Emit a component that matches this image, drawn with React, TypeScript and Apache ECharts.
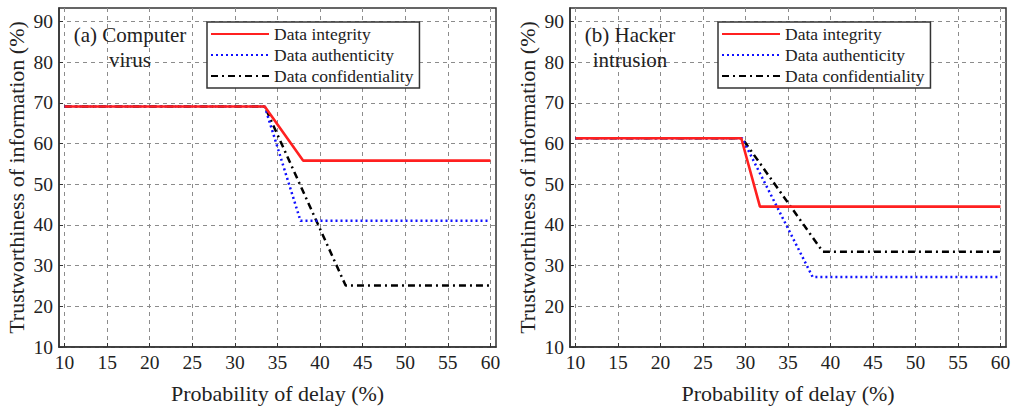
import React, { useEffect, useRef } from "react";
import * as echarts from "echarts";

const xTicks = [10, 15, 20, 25, 30, 35, 40, 45, 50, 55, 60];
const yTicks = [10, 20, 30, 40, 50, 60, 70, 80, 90];
const seriesNames = ["Data integrity", "Data authenticity", "Data confidentiality"];

// Panel (a) Computer virus
const aIntegrityX = [10, 33.5, 38.0, 60];
const aIntegrityY = [69.1, 69.1, 55.8, 55.8];
const aAuthenticityX = [10, 33.5, 37.7, 60];
const aAuthenticityY = [69.1, 69.1, 41.0, 41.0];
const aConfidentialityX = [10, 33.5, 43.0, 60];
const aConfidentialityY = [69.1, 69.1, 25.1, 25.1];

// Panel (b) Hacker intrusion
const bIntegrityX = [10, 29.5, 31.7, 60];
const bIntegrityY = [61.3, 61.3, 44.5, 44.5];
const bAuthenticityX = [10, 29.6, 37.9, 60];
const bAuthenticityY = [61.3, 61.3, 27.2, 27.2];
const bConfidentialityX = [10, 29.6, 39.1, 60];
const bConfidentialityY = [61.3, 61.3, 33.4, 33.4];

const panelTitles = ["(a) Computer\nvirus", "(b) Hacker\nintrusion"];

const FONT = "Liberation Serif, serif";

const zip = (xs: number[], ys: number[]) => xs.map((x, i) => [x, ys[i]]);

const styles = [
  { color: "#ff2020", type: "solid" as any, width: 2.6 },
  { color: "#1010ff", type: [2, 3] as any, width: 2.5 },
  { color: "#000000", type: [7, 4, 2, 4] as any, width: 2.5 },
];

export default function App() {
  const ref = useRef<HTMLDivElement>(null);
  useEffect(() => {
    if (!ref.current) return;
    const chart = echarts.init(ref.current, undefined, { renderer: "svg" });
    const grids = [
      { left: 59, top: 8, width: 437, height: 352 },
      { left: 570, top: 8, width: 436, height: 352 },
    ];
    const mkX = (gi: number) => ({
      type: "value",
      gridIndex: gi,
      min: 9.35,
      max: 60.65,
      axisLine: { show: true, lineStyle: { color: "#333", width: 1.5 } },
      axisTick: { show: true, inside: true, length: 4, customValues: xTicks, lineStyle: { color: "#333" } },
      axisLabel: { customValues: xTicks, fontSize: 19.5, fontFamily: FONT, color: "#222", margin: 5 },
      splitLine: { show: true, lineStyle: { type: [4, 4], color: "#8c8c8c", width: 1 } },
      name: "Probability of delay (%)",
      nameLocation: "middle",
      nameGap: 35,
      nameTextStyle: { fontSize: 22, fontFamily: FONT, color: "#222" },
    });
    const mkY = (gi: number) => ({
      type: "value",
      gridIndex: gi,
      min: 10,
      max: 93.3,
      axisLine: { show: true, lineStyle: { color: "#333", width: 1.5 } },
      axisTick: { show: true, inside: true, length: 4, customValues: yTicks, lineStyle: { color: "#333" } },
      axisLabel: { customValues: yTicks, fontSize: 19.5, fontFamily: FONT, color: "#222", margin: 6 },
      splitLine: { show: true, lineStyle: { type: [4, 4], color: "#8c8c8c", width: 1 } },
      name: "Trustworthiness of information (%)",
      nameLocation: "middle",
      nameGap: 32,
      nameTextStyle: { fontSize: 22, fontFamily: FONT, color: "#222" },
    });
    const data = [
      [zip(aIntegrityX, aIntegrityY), zip(aAuthenticityX, aAuthenticityY), zip(aConfidentialityX, aConfidentialityY)],
      [zip(bIntegrityX, bIntegrityY), zip(bAuthenticityX, bAuthenticityY), zip(bConfidentialityX, bConfidentialityY)],
    ];
    const series: any[] = [];
    data.forEach((panel, gi) => {
      panel.forEach((d, si) => {
        series.push({
          type: "line",
          name: seriesNames[si],
          xAxisIndex: gi,
          yAxisIndex: gi,
          data: d,
          symbol: "none",
          lineStyle: styles[si],
          itemStyle: { color: styles[si].color },
          z: 5 - si,
        });
      });
    });
    const mkLegend = (left: number) => ({
      orient: "vertical",
      left,
      top: 22,
      data: seriesNames,
      itemWidth: 58,
      itemHeight: 14,
      itemGap: 3,
      padding: [3, 6, 3, 3],
      backgroundColor: "#fff",
      borderColor: "#333",
      borderWidth: 1.5,
      borderRadius: 0,
      itemStyle: { opacity: 0 },
      textStyle: { fontSize: 17.5, lineHeight: 17, fontFamily: FONT, color: "#222" },
      selectedMode: false,
    });
    const titleText = (x: number, text: string) => ({
      type: "text",
      z: 10,
      x,
      y: 22,
      style: {
        text,
        fontSize: 21,
        fontFamily: FONT,
        fill: "#222",
        align: "center",
        lineHeight: 25,
      },
    });
    chart.setOption({
      animation: false,
      backgroundColor: "#fff",
      grid: grids.map((g) => ({
        ...g,
        show: true,
        borderColor: "#333",
        borderWidth: 1.5,
        backgroundColor: "transparent",
      })),
      xAxis: [mkX(0), mkX(1)],
      yAxis: [mkY(0), mkY(1)],
      legend: [mkLegend(207), mkLegend(718)],
      graphic: [titleText(130, panelTitles[0]), titleText(630, panelTitles[1])],
      series,
    });
    return () => chart.dispose();
  }, []);
  return (
    <div
      ref={ref}
      style={{ position: "fixed", left: 0, top: 0, width: 1015, height: 409 }}
    />
  );
}
